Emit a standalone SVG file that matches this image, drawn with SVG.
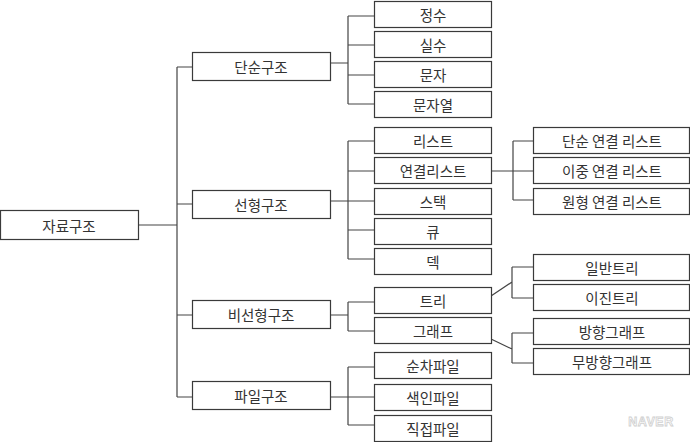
<svg xmlns="http://www.w3.org/2000/svg" width="690" height="442" viewBox="0 0 690 442">
<style>
rect.b{fill:#fff;stroke:#3a3a3a;stroke-width:1.2}
text{font-family:"Noto Sans CJK KR","Liberation Sans",sans-serif;font-size:14.5px;fill:#333;text-anchor:middle;dominant-baseline:central}
#connectors path{fill:none;stroke:#444;stroke-width:1.2}
</style>
<rect width="690" height="442" fill="#fff"/>
<g id="connectors">
<path d="M138 225H177M177 67V397M177 67H192M177 204H192M177 315H192M177 397H192"/>
<path d="M330 63H348M348 16V104M348 16H374M348 45H374M348 75H374M348 104H374"/>
<path d="M330 201H348M348 141V259M348 141H374M348 171H374M348 201H374M348 230H374M348 259H374"/>
<path d="M330 315H348M348 302V331M348 302H374M348 331H374"/>
<path d="M330 397H348M348 367V425M348 367H374M348 397H374M348 425H374"/>
<path d="M491 171H533M513 141V200M513 141H533M513 200H533"/>
<path d="M491 296L512 282M512 267V298M512 267H533M512 298H533"/>
<path d="M491 339L512 349M512 333V363M512 333H533M512 363H533"/>
</g>
<g id="n-root"><rect class="b" x="0.5" y="210.5" width="138" height="29"/><text x="69" y="225">자료구조</text></g>
<g id="n-simple"><rect class="b" x="192.5" y="52.5" width="138" height="28"/><text x="261" y="66.5">단순구조</text></g>
<g id="n-linear"><rect class="b" x="192.5" y="190.5" width="138" height="28"/><text x="261" y="204.5">선형구조</text></g>
<g id="n-nonlinear"><rect class="b" x="192.5" y="300.5" width="138" height="28"/><text x="261" y="314.5">비선형구조</text></g>
<g id="n-file"><rect class="b" x="192.5" y="381.5" width="138" height="28"/><text x="261" y="395.5">파일구조</text></g>
<g id="n-int"><rect class="b" x="374.5" y="1.5" width="117" height="26"/><text x="433" y="14.5">정수</text></g>
<g id="n-real"><rect class="b" x="374.5" y="31.5" width="117" height="26"/><text x="433" y="44.5">실수</text></g>
<g id="n-char"><rect class="b" x="374.5" y="61.5" width="117" height="26"/><text x="433" y="74.5">문자</text></g>
<g id="n-string"><rect class="b" x="374.5" y="91.5" width="117" height="26"/><text x="433" y="104.5">문자열</text></g>
<g id="n-list"><rect class="b" x="374.5" y="127.5" width="117" height="26"/><text x="433" y="140.5">리스트</text></g>
<g id="n-linked"><rect class="b" x="374.5" y="157.5" width="117" height="26"/><text x="433" y="170.5">연결리스트</text></g>
<g id="n-stack"><rect class="b" x="374.5" y="188.5" width="117" height="26"/><text x="433" y="201.5">스택</text></g>
<g id="n-queue"><rect class="b" x="374.5" y="218.5" width="117" height="26"/><text x="433" y="231.5">큐</text></g>
<g id="n-deque"><rect class="b" x="374.5" y="248.5" width="117" height="26"/><text x="433" y="261.5">덱</text></g>
<g id="n-tree"><rect class="b" x="374.5" y="287.5" width="117" height="26"/><text x="433" y="300.5">트리</text></g>
<g id="n-graph"><rect class="b" x="374.5" y="317.5" width="117" height="26"/><text x="433" y="330.5">그래프</text></g>
<g id="n-seq"><rect class="b" x="374.5" y="352.5" width="117" height="26"/><text x="433" y="365.5">순차파일</text></g>
<g id="n-idx"><rect class="b" x="374.5" y="384.5" width="117" height="26"/><text x="433" y="397.5">색인파일</text></g>
<g id="n-direct"><rect class="b" x="374.5" y="415.5" width="117" height="26"/><text x="433" y="428.5">직접파일</text></g>
<g id="n-sll"><rect class="b" x="533.5" y="127.5" width="156" height="26"/><text x="612" y="140.5">단순 연결 리스트</text></g>
<g id="n-dll"><rect class="b" x="533.5" y="157.5" width="156" height="26"/><text x="612" y="170.5">이중 연결 리스트</text></g>
<g id="n-cll"><rect class="b" x="533.5" y="188.5" width="156" height="26"/><text x="612" y="201.5">원형 연결 리스트</text></g>
<g id="n-gtree"><rect class="b" x="533.5" y="254.5" width="156" height="26"/><text x="612" y="267.5">일반트리</text></g>
<g id="n-btree"><rect class="b" x="533.5" y="284.5" width="156" height="26"/><text x="612" y="297.5">이진트리</text></g>
<g id="n-dgraph"><rect class="b" x="533.5" y="318.5" width="156" height="26"/><text x="612" y="331.5">방향그래프</text></g>
<g id="n-ugraph"><rect class="b" x="533.5" y="348.5" width="156" height="26"/><text x="612" y="361.5">무방향그래프</text></g>
<text x="651" y="422" style="font-family:'Liberation Sans',sans-serif;font-size:12.5px;font-weight:bold;letter-spacing:0.5px;fill:#fff;stroke:#d0d0d0;stroke-width:0.8">NAVER</text>
</svg>
